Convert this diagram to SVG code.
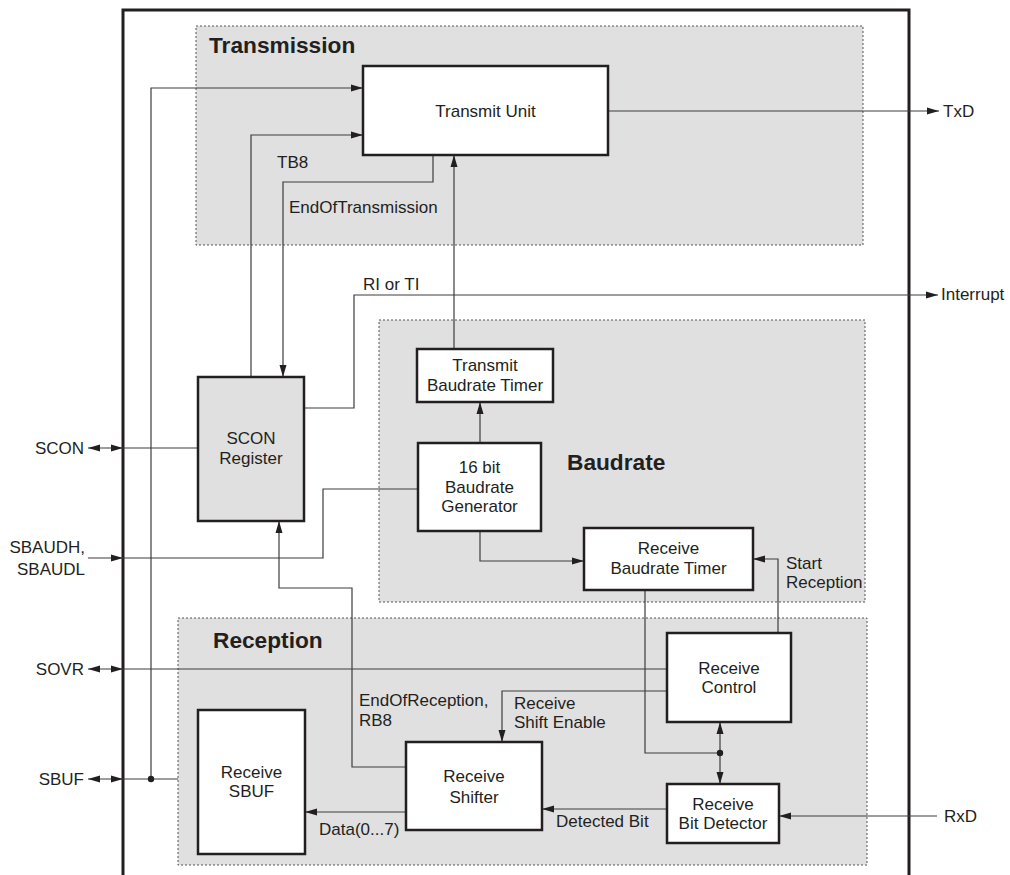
<svg xmlns="http://www.w3.org/2000/svg" width="1010" height="875" viewBox="0 0 1010 875">
<style>
text{font-family:"Liberation Sans",Arial,sans-serif;font-size:17px;fill:#231f20}
.c{text-anchor:middle}
.e{text-anchor:end}
.h{font-size:22.7px;font-weight:bold}
.region{fill:#e0e0e0;stroke:#555;stroke-width:1;stroke-dasharray:2,2}
.box{fill:#fff;stroke:#231f20;stroke-width:2.5}
.gbox{fill:#e0e0e0;stroke:#231f20;stroke-width:2.5}
.w{fill:none;stroke:#3c3c3c;stroke-width:1.2}
.a{marker-end:url(#ah)}
.d{marker-start:url(#ah);marker-end:url(#ah)}
</style>
<defs>
<marker id="ah" markerUnits="userSpaceOnUse" markerWidth="12" markerHeight="8" refX="12" refY="4" orient="auto-start-reverse"><path d="M0,0.5 L12,4 L0,7.5 z" fill="#231f20"/></marker>
</defs>
<rect width="1010" height="875" fill="#fff"/>
<g id="regions">
<rect id="transmission" class="region" x="196" y="26" width="667" height="219"/>
<text class="h" x="209" y="53">Transmission</text>
<rect id="baudrate" class="region" x="379" y="320" width="486" height="282"/>
<text class="h" x="567" y="470">Baudrate</text>
<rect id="reception" class="region" x="178" y="618" width="689" height="247"/>
<text class="h" x="213" y="648">Reception</text>
</g>
<path id="frame" d="M123,875 V10 H909 V875" fill="none" stroke="#231f20" stroke-width="3"/>
<g id="connectors">
<path class="w a" d="M608,111 H939"/>
<path class="w a" d="M304,408 H354 V295 H938"/>
<path class="w a" d="M454,349 V155"/>
<path class="w a" d="M251,377 V135 H363"/>
<path class="w a" d="M433,155 V182 H283 V377"/>
<path class="w a" d="M151,779 V88 H363"/>
<path class="w a" d="M480,443 V402"/>
<path class="w a" d="M480,531 V561 H584"/>
<path class="w" d="M418,489 H323 V558 H123"/>
<path class="w a" d="M88,558 H123"/>
<path class="w d" d="M88,448 H123"/>
<path class="w" d="M123,448 H198"/>
<path class="w d" d="M88,669 H123"/>
<path class="w" d="M123,669 H667"/>
<path class="w d" d="M88,779 H123"/>
<path class="w" d="M123,779 H178"/>
<circle cx="151" cy="779" r="3.2" fill="#231f20"/>
<path class="w a" d="M778,633 V559 H753"/>
<path class="w" d="M645,590 V753 H720"/>
<path class="w a" d="M720,753 V722"/>
<path class="w a" d="M720,753 V784"/>
<circle cx="720" cy="753" r="3.2" fill="#231f20"/>
<path class="w a" d="M667,691 H502 V742"/>
<path class="w a" d="M406,767 H352 V588 H279 V521"/>
<path class="w a" d="M406,812 H305"/>
<path class="w a" d="M667,809 H542"/>
<path class="w a" d="M937,816 H779"/>
<text x="277" y="168">TB8</text>
<text x="289" y="213">EndOfTransmission</text>
<text x="363" y="290">RI or TI</text>
<text x="786" y="569">Start</text>
<text x="786" y="588">Reception</text>
<text x="359" y="706">EndOfReception,</text>
<text x="359" y="726">RB8</text>
<text x="514" y="709">Receive</text>
<text x="514" y="728">Shift Enable</text>
<text x="319" y="835">Data(0...7)</text>
<text x="556" y="827">Detected Bit</text>
</g>
<g id="pins">
<text x="943" y="117">TxD</text>
<text x="941" y="300">Interrupt</text>
<text x="944" y="822">RxD</text>
<text class="e" x="84" y="454">SCON</text>
<text class="e" x="85" y="553">SBAUDH,</text>
<text class="e" x="85" y="575">SBAUDL</text>
<text class="e" x="84" y="675">SOVR</text>
<text class="e" x="84" y="785">SBUF</text>
</g>
<g id="transmit-unit"><rect class="box" x="363" y="66" width="245" height="89"/><text class="c" x="485.5" y="117">Transmit Unit</text></g>
<g id="scon-register"><rect class="gbox" x="198" y="377" width="106" height="144"/><text class="c" x="251" y="444">SCON</text><text class="c" x="251" y="464">Register</text></g>
<g id="transmit-baudrate-timer"><rect class="box" x="417" y="349" width="136" height="53"/><text class="c" x="485" y="371">Transmit</text><text class="c" x="485" y="391">Baudrate Timer</text></g>
<g id="baudrate-generator"><rect class="box" x="418" y="443" width="123" height="88"/><text class="c" x="479.5" y="473">16 bit</text><text class="c" x="479.5" y="493">Baudrate</text><text class="c" x="479.5" y="512">Generator</text></g>
<g id="receive-baudrate-timer"><rect class="box" x="584" y="528" width="169" height="62"/><text class="c" x="668.5" y="554">Receive</text><text class="c" x="668.5" y="574">Baudrate Timer</text></g>
<g id="receive-control"><rect class="box" x="667" y="633" width="124" height="89"/><text class="c" x="729" y="674">Receive</text><text class="c" x="729" y="693">Control</text></g>
<g id="receive-sbuf"><rect class="box" x="198" y="710" width="107" height="144"/><text class="c" x="251.5" y="778">Receive</text><text class="c" x="251.5" y="797">SBUF</text></g>
<g id="receive-shifter"><rect class="box" x="406" y="742" width="136" height="88"/><text class="c" x="474" y="782">Receive</text><text class="c" x="474" y="803">Shifter</text></g>
<g id="receive-bit-detector"><rect class="box" x="667" y="784" width="112" height="59"/><text class="c" x="723" y="810">Receive</text><text class="c" x="723" y="829">Bit Detector</text></g>
</svg>
